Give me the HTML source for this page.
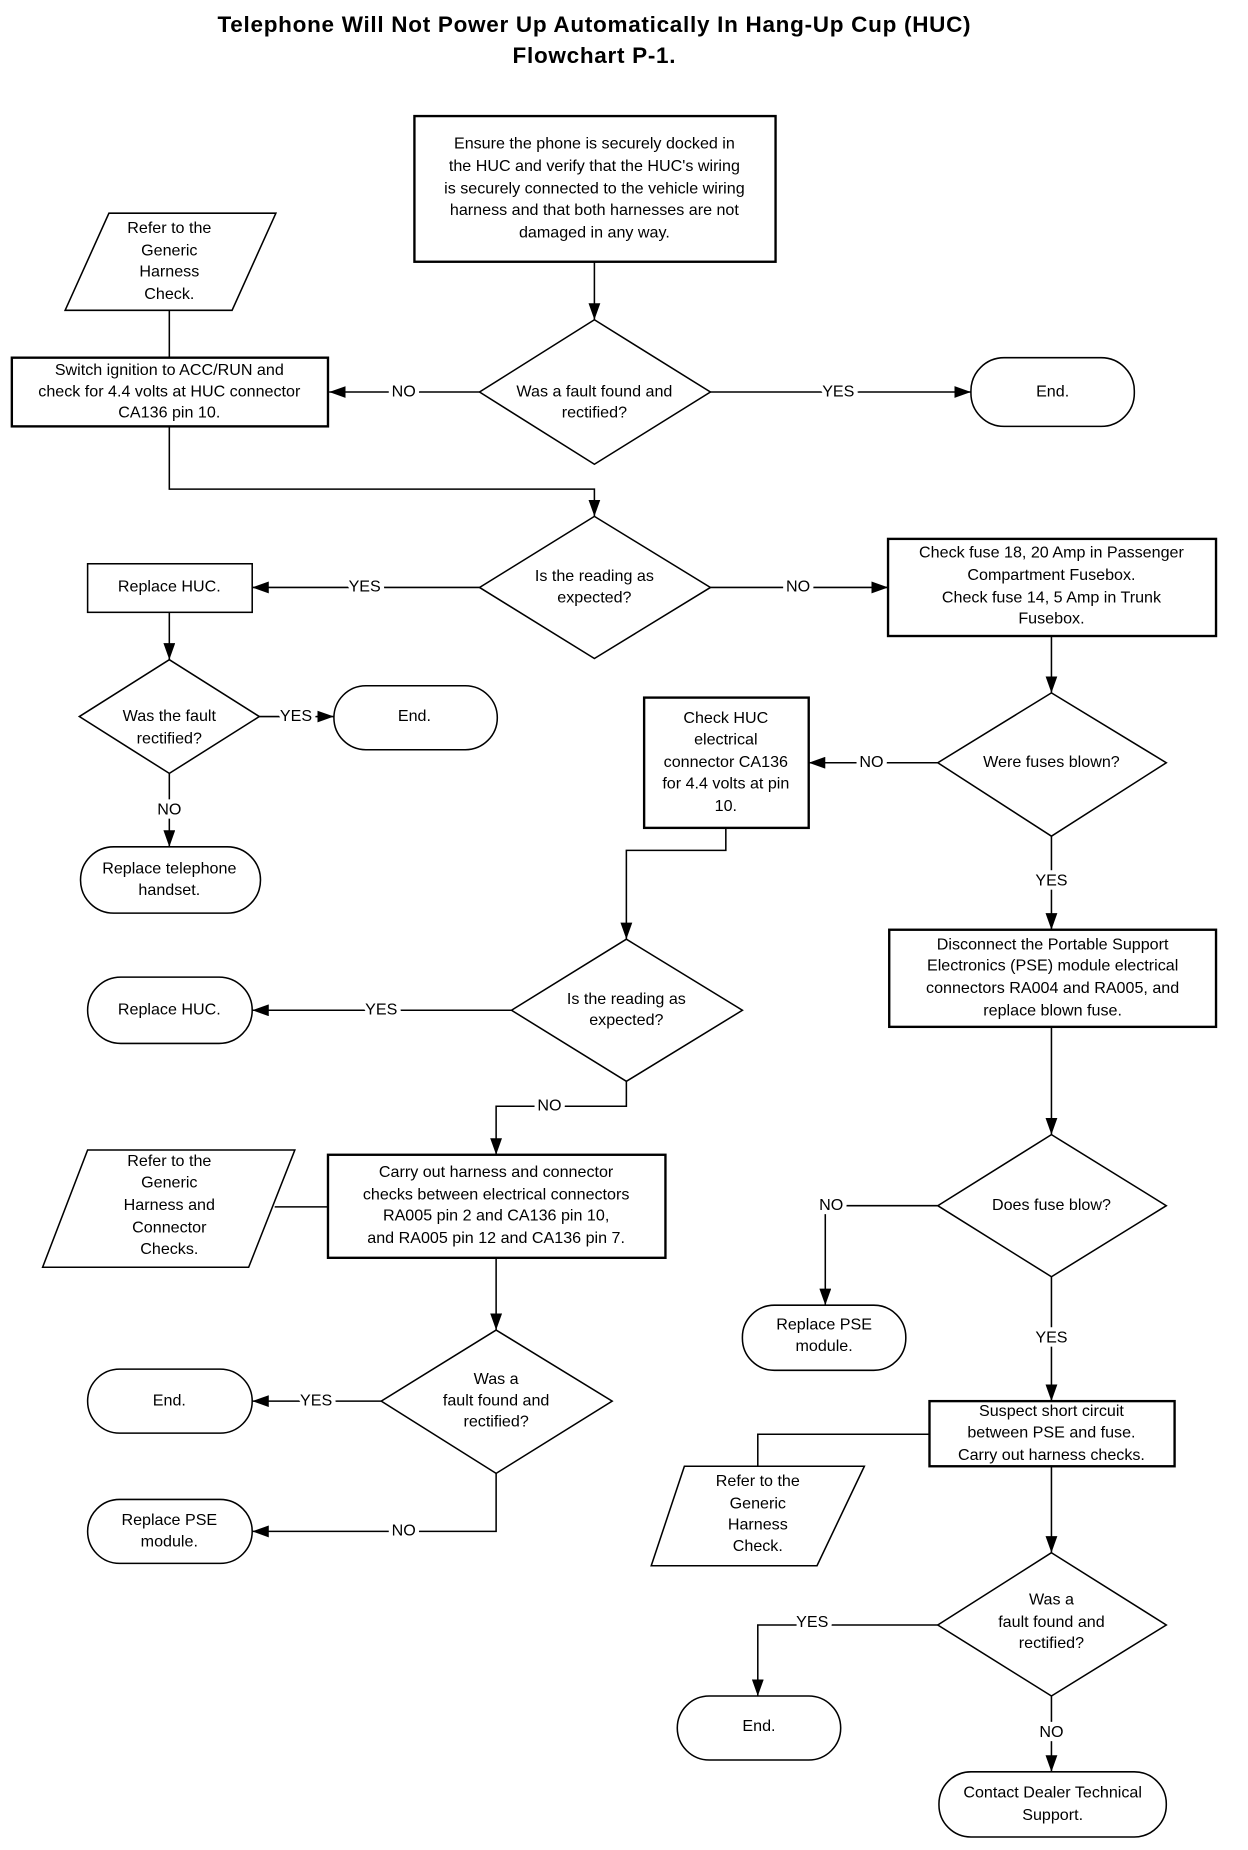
<!DOCTYPE html>
<html><head><meta charset="utf-8"><style>
html,body{margin:0;padding:0;background:#fff;}
svg{display:block;}
text{font-family:"Liberation Sans",sans-serif;font-size:13.6px;fill:#000;text-anchor:middle;dominant-baseline:middle;}
.t{font-weight:bold;font-size:19px;letter-spacing:0.6px;}
.l{stroke:#fff;stroke-width:7px;paint-order:stroke;}
.s{fill:#fff;stroke:#000;stroke-width:1.3;}
.b{fill:#fff;stroke:#000;stroke-width:2;}
.c{fill:none;stroke:#000;stroke-width:1.3;}
</style></head><body>
<svg width="1248" height="1850" viewBox="0 0 1054 1562" preserveAspectRatio="none" xmlns="http://www.w3.org/2000/svg">
<defs><marker id="ar" markerWidth="14" markerHeight="10" refX="14" refY="5" orient="auto" markerUnits="userSpaceOnUse"><path d="M0,0 L14,5 L0,10 z" fill="#000"/></marker></defs>

<text class="t" x="502" y="22">Telephone  Will Not Power Up Automatically In Hang-Up Cup (HUC)</text>
<text class="t" x="502" y="48">Flowchart P-1.</text>

<g class="c">
<path d="M502,221 V270" marker-end="url(#ar)"/>
<path d="M405,331 H278" marker-end="url(#ar)"/>
<path d="M600,331 H820" marker-end="url(#ar)"/>
<path d="M143,262 V302"/>
<path d="M143,360 V413 H502 V436" marker-end="url(#ar)"/>
<path d="M405,496 H213" marker-end="url(#ar)"/>
<path d="M600,496 H750" marker-end="url(#ar)"/>
<path d="M143,517 V557" marker-end="url(#ar)"/>
<path d="M219,605 H282" marker-end="url(#ar)"/>
<path d="M143,653 V715" marker-end="url(#ar)"/>
<path d="M888,537 V585" marker-end="url(#ar)"/>
<path d="M792,644 H683" marker-end="url(#ar)"/>
<path d="M888,706 V785" marker-end="url(#ar)"/>
<path d="M613,699 V718 H529 V793" marker-end="url(#ar)"/>
<path d="M432,853 H213" marker-end="url(#ar)"/>
<path d="M529,913 V934 H419 V975" marker-end="url(#ar)"/>
<path d="M232,1019 H277"/>
<path d="M419,1062 V1123" marker-end="url(#ar)"/>
<path d="M322,1183 H213" marker-end="url(#ar)"/>
<path d="M419,1244 V1293 H213" marker-end="url(#ar)"/>
<path d="M888,867 V958" marker-end="url(#ar)"/>
<path d="M792,1018 H697 V1102" marker-end="url(#ar)"/>
<path d="M888,1078 V1183" marker-end="url(#ar)"/>
<path d="M785,1211 H640 V1238"/>
<path d="M888,1238 V1311" marker-end="url(#ar)"/>
<path d="M792,1372 H640 V1432" marker-end="url(#ar)"/>
<path d="M888,1432 V1496" marker-end="url(#ar)"/>
</g>

<rect class="b" x="350" y="98" width="305" height="123"/>
<polygon class="s" points="502,270 600,331 502,392 405,331"/>
<rect class="s" x="820" y="302" width="138" height="58" rx="28"/>
<polygon class="s" points="92,180 233,180 196,262 55,262"/>
<rect class="b" x="10" y="302" width="267" height="58"/>
<polygon class="s" points="502,436 600,496 502,556 405,496"/>
<rect class="s" x="74" y="476" width="139" height="41"/>
<rect class="b" x="750" y="455" width="277" height="82"/>
<polygon class="s" points="143,557 219,605 143,653 67,605" />
<rect class="s" x="282" y="579" width="138" height="54" rx="27"/>
<rect class="s" x="68" y="715" width="152" height="56" rx="28"/>
<polygon class="s" points="888,585 985,644 888,706 792,644"/>
<rect class="b" x="544" y="589" width="139" height="110"/>
<rect class="b" x="751" y="785" width="276" height="82"/>
<polygon class="s" points="529,793 627,853 529,913 432,853"/>
<rect class="s" x="74" y="825" width="139" height="56" rx="28"/>
<rect class="b" x="277" y="975" width="285" height="87"/>
<polygon class="s" points="74,971 249,971 210,1070 36,1070"/>
<polygon class="s" points="419,1123 517,1183 419,1244 322,1183"/>
<rect class="s" x="74" y="1156" width="139" height="54" rx="27"/>
<rect class="s" x="74" y="1266" width="139" height="54" rx="27"/>
<polygon class="s" points="888,958 985,1018 888,1078 792,1018"/>
<rect class="s" x="627" y="1102" width="138" height="55" rx="27"/>
<rect class="b" x="785" y="1183" width="207" height="55"/>
<polygon class="s" points="578,1238 730,1238 690,1322 550,1322"/>
<polygon class="s" points="888,1311 985,1372 888,1432 792,1372"/>
<rect class="s" x="572" y="1432" width="138" height="54" rx="27"/>
<rect class="s" x="793" y="1496" width="192" height="55" rx="27"/>

<g>
<text class="l" x="341" y="331">NO</text>
<text class="l" x="708" y="331">YES</text>
<text class="l" x="308" y="496">YES</text>
<text class="l" x="674" y="496">NO</text>
<text class="l" x="250" y="605">YES</text>
<text class="l" x="143" y="684">NO</text>
<text class="l" x="736" y="644">NO</text>
<text class="l" x="888" y="744">YES</text>
<text class="l" x="322" y="853">YES</text>
<text class="l" x="464" y="934">NO</text>
<text class="l" x="267" y="1183">YES</text>
<text class="l" x="341" y="1293">NO</text>
<text class="l" x="702" y="1018">NO</text>
<text class="l" x="888" y="1130">YES</text>
<text class="l" x="686" y="1370">YES</text>
<text class="l" x="888" y="1463">NO</text>
</g>

<text x="502" y="122">Ensure the phone is securely docked in</text>
<text x="502" y="141">the HUC and verify that the HUC's wiring</text>
<text x="502" y="160">is securely connected to the vehicle wiring</text>
<text x="502" y="178">harness and that both harnesses are not</text>
<text x="502" y="197">damaged in any way.</text>
<text x="502" y="331">Was a fault found and</text>
<text x="502" y="349">rectified?</text>
<text x="889" y="331">End.</text>
<text x="143" y="193">Refer to the</text>
<text x="143" y="212">Generic</text>
<text x="143" y="230">Harness</text>
<text x="143" y="249">Check.</text>
<text x="143" y="313">Switch ignition to ACC/RUN and</text>
<text x="143" y="331">check for 4.4 volts at HUC connector</text>
<text x="143" y="349">CA136 pin 10.</text>
<text x="502" y="487">Is the reading as</text>
<text x="502" y="505">expected?</text>
<text x="143" y="496">Replace HUC.</text>
<text x="888" y="467">Check fuse 18, 20 Amp in  Passenger</text>
<text x="888" y="486">Compartment Fusebox.</text>
<text x="888" y="505">Check fuse 14, 5 Amp in Trunk</text>
<text x="888" y="523">Fusebox.</text>
<text x="143" y="605">Was the fault</text>
<text x="143" y="624">rectified?</text>
<text x="350" y="605">End.</text>
<text x="143" y="734">Replace telephone</text>
<text x="143" y="752">handset.</text>
<text x="888" y="644">Were fuses blown?</text>
<text x="613" y="607">Check HUC</text>
<text x="613" y="625">electrical</text>
<text x="613" y="644">connector CA136</text>
<text x="613" y="662">for 4.4 volts at pin</text>
<text x="613" y="681">10.</text>
<text x="889" y="798">Disconnect the Portable Support</text>
<text x="889" y="816">Electronics (PSE) module electrical</text>
<text x="889" y="835">connectors RA004 and RA005, and</text>
<text x="889" y="854">replace blown fuse.</text>
<text x="529" y="844">Is the reading as</text>
<text x="529" y="862">expected?</text>
<text x="143" y="853">Replace HUC.</text>
<text x="419" y="990">Carry out harness and connector</text>
<text x="419" y="1009">checks between electrical connectors</text>
<text x="419" y="1027">RA005 pin 2 and CA136 pin 10,</text>
<text x="419" y="1046">and RA005 pin 12 and CA136 pin 7.</text>
<text x="143" y="981">Refer to the</text>
<text x="143" y="999">Generic</text>
<text x="143" y="1018">Harness and</text>
<text x="143" y="1037">Connector</text>
<text x="143" y="1055">Checks.</text>
<text x="419" y="1165">Was a</text>
<text x="419" y="1183">fault found and</text>
<text x="419" y="1201">rectified?</text>
<text x="143" y="1183">End.</text>
<text x="143" y="1284">Replace PSE</text>
<text x="143" y="1302">module.</text>
<text x="888" y="1018">Does fuse blow?</text>
<text x="696" y="1119">Replace PSE</text>
<text x="696" y="1137">module.</text>
<text x="888" y="1192">Suspect short circuit</text>
<text x="888" y="1210">between PSE and fuse.</text>
<text x="888" y="1229">Carry out harness checks.</text>
<text x="640" y="1251">Refer to the</text>
<text x="640" y="1270">Generic</text>
<text x="640" y="1288">Harness</text>
<text x="640" y="1306">Check.</text>
<text x="888" y="1351">Was a</text>
<text x="888" y="1370">fault found and</text>
<text x="888" y="1388">rectified?</text>
<text x="641" y="1458">End.</text>
<text x="889" y="1514">Contact Dealer Technical</text>
<text x="889" y="1533">Support.</text>
</svg>
</body></html>
